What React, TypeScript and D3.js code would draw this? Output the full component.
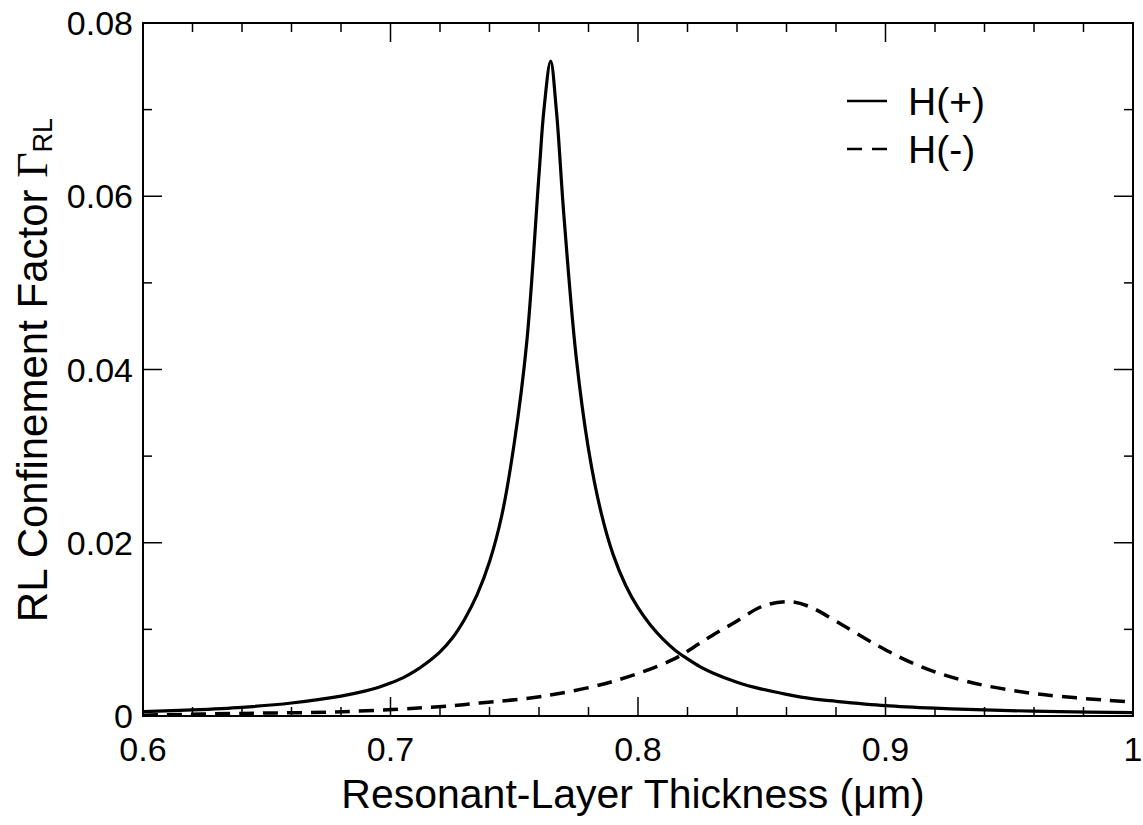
import React, { useEffect, useRef } from "react";
import * as d3 from "d3";

// H(+) mode: thickness (um) and confinement factor
const plusX = [0.6, 0.62, 0.64, 0.66, 0.68, 0.69, 0.695, 0.7, 0.705, 0.71, 0.715, 0.72, 0.725, 0.73, 0.735, 0.74, 0.745, 0.75, 0.755, 0.76, 0.762, 0.7647, 0.767, 0.77, 0.775, 0.78, 0.785, 0.79, 0.795, 0.8, 0.805, 0.81, 0.815, 0.82, 0.825, 0.83, 0.84, 0.85, 0.86, 0.87, 0.88, 0.9, 0.92, 0.94, 0.97, 1.0];
const plusY = [0.0005, 0.0007, 0.001, 0.0015, 0.0023, 0.0029, 0.0033, 0.0038, 0.0044, 0.0052, 0.0062, 0.0074, 0.009, 0.0112, 0.014, 0.0178, 0.0232, 0.0315, 0.043, 0.0625, 0.07, 0.0756, 0.07, 0.058, 0.0415, 0.0308, 0.0236, 0.0186, 0.0151, 0.0125, 0.0105, 0.0089, 0.0076, 0.0066, 0.0057, 0.005, 0.0039, 0.0031, 0.0025, 0.002, 0.0017, 0.0012, 0.0009, 0.0007, 0.0005, 0.0004];

// H(-) mode
const minusX = [0.6, 0.64, 0.681, 0.721, 0.736, 0.762, 0.79, 0.814, 0.825, 0.83, 0.8385, 0.8506, 0.8614, 0.8695, 0.8803, 0.8964, 0.9126, 0.9328, 0.9597, 1.0];
const minusY = [0.0001, 0.0003, 0.0005, 0.0011, 0.0015, 0.0023, 0.004, 0.0065, 0.0084, 0.0093, 0.0107, 0.0127, 0.0132, 0.0126, 0.0109, 0.0082, 0.0059, 0.004, 0.0026, 0.0016];

const xTicks = [0.6, 0.7, 0.8, 0.9, 1.0];
const xTickLabels = ["0.6", "0.7", "0.8", "0.9", "1"];
const yTicks = [0, 0.02, 0.04, 0.06, 0.08];
const yTickLabels = ["0", "0.02", "0.04", "0.06", "0.08"];
const legendLabels = ["H(+)", "H(-)"];

const W = 1143;
const H = 825;
const SANS = "Helvetica, Arial, 'Liberation Sans', sans-serif";

export default function App() {
  const ref = useRef<SVGSVGElement>(null);

  useEffect(() => {
    const svg = d3.select(ref.current);
    svg.selectAll("*").remove();

    const left = 143, right = 1133, top = 23, bottom = 716;
    const x = d3.scaleLinear().domain([0.6, 1.0]).range([left, right]);
    const y = d3.scaleLinear().domain([0, 0.08]).range([bottom, top]);

    svg.append("rect").attr("width", W).attr("height", H).attr("fill", "#fff");

    const g = svg.append("g");

    // curves
    const line = d3
      .line<[number, number]>()
      .x((d) => x(d[0]))
      .y((d) => y(d[1]))
      .curve(d3.curveCatmullRom.alpha(0.5));

    const plus = plusX.map((v, i) => [v, plusY[i]] as [number, number]);
    const minus = minusX.map((v, i) => [v, minusY[i]] as [number, number]);

    g.append("path")
      .attr("d", line(minus))
      .attr("fill", "none")
      .attr("stroke", "#000")
      .attr("stroke-width", 3.5)
      .attr("stroke-dasharray", "15 9");

    g.append("path")
      .attr("d", line(plus))
      .attr("fill", "none")
      .attr("stroke", "#000")
      .attr("stroke-width", 3.2);

    // ticks on all four sides, pointing inward
    const xMinor = d3.range(0.6, 1.0001, 0.02);
    const yMinor = d3.range(0, 0.08001, 0.01);
    const tick = g.append("g").attr("stroke", "#000").attr("stroke-width", 1.5);

    xMinor.forEach((v, i) => {
      const len = i % 5 === 0 ? 19 : 9;
      tick.append("line").attr("x1", x(v)).attr("x2", x(v)).attr("y1", bottom).attr("y2", bottom - len);
      tick.append("line").attr("x1", x(v)).attr("x2", x(v)).attr("y1", top).attr("y2", top + len);
    });
    yMinor.forEach((v, i) => {
      const len = i % 2 === 0 ? 19 : 9;
      tick.append("line").attr("y1", y(v)).attr("y2", y(v)).attr("x1", left).attr("x2", left + len);
      tick.append("line").attr("y1", y(v)).attr("y2", y(v)).attr("x1", right).attr("x2", right - len);
    });

    g.append("rect")
      .attr("x", left)
      .attr("y", top)
      .attr("width", right - left)
      .attr("height", bottom - top)
      .attr("fill", "none")
      .attr("stroke", "#000")
      .attr("stroke-width", 2);

    // tick labels
    g.selectAll("text.xt")
      .data(xTicks)
      .enter()
      .append("text")
      .attr("x", (d) => x(d))
      .attr("y", 761)
      .attr("text-anchor", "middle")
      .style("font-family", SANS)
      .style("font-size", "34px")
      .text((d, i) => xTickLabels[i]);

    g.selectAll("text.yt")
      .data(yTicks)
      .enter()
      .append("text")
      .attr("x", 133)
      .attr("y", (d) => y(d))
      .attr("dy", "0.36em")
      .attr("text-anchor", "end")
      .style("font-family", SANS)
      .style("font-size", "34px")
      .text((d, i) => yTickLabels[i]);

    // axis titles
    g.append("text")
      .attr("x", 633)
      .attr("y", 808)
      .attr("text-anchor", "middle")
      .style("font-family", SANS)
      .style("font-size", "41px")
      .text("Resonant-Layer Thickness (\u03bcm)");

    const yt = g
      .append("text")
      .attr("transform", `translate(47,370) rotate(-90)`)
      .attr("text-anchor", "middle")
      .style("font-family", SANS)
      .style("font-size", "42px");
    yt.append("tspan").text("RL Confinement Factor  ");
    yt.append("tspan").style("font-family", "'Liberation Serif', 'Times New Roman', serif").style("font-size", "44px").text("\u0393");
    yt.append("tspan").attr("dy", 5).style("font-size", "27px").text("RL");

    // legend
    const lg = g.append("g");
    legendLabels.forEach((lab, i) => {
      const ly = 101 + i * 48;
      lg.append("line")
        .attr("x1", 847)
        .attr("x2", 887)
        .attr("y1", ly)
        .attr("y2", ly)
        .attr("stroke", "#000")
        .attr("stroke-width", 2.5)
        .attr("stroke-dasharray", i === 0 ? null : "15 10");
      lg.append("text")
        .attr("x", 908)
        .attr("y", ly)
        .attr("dy", "0.36em")
        .style("font-family", SANS)
        .style("font-size", "39px")
        .text(lab);
    });
  }, []);

  return <svg ref={ref} width={W} height={H} style={{ position: "absolute", left: 0, top: 0 }} />;
}
